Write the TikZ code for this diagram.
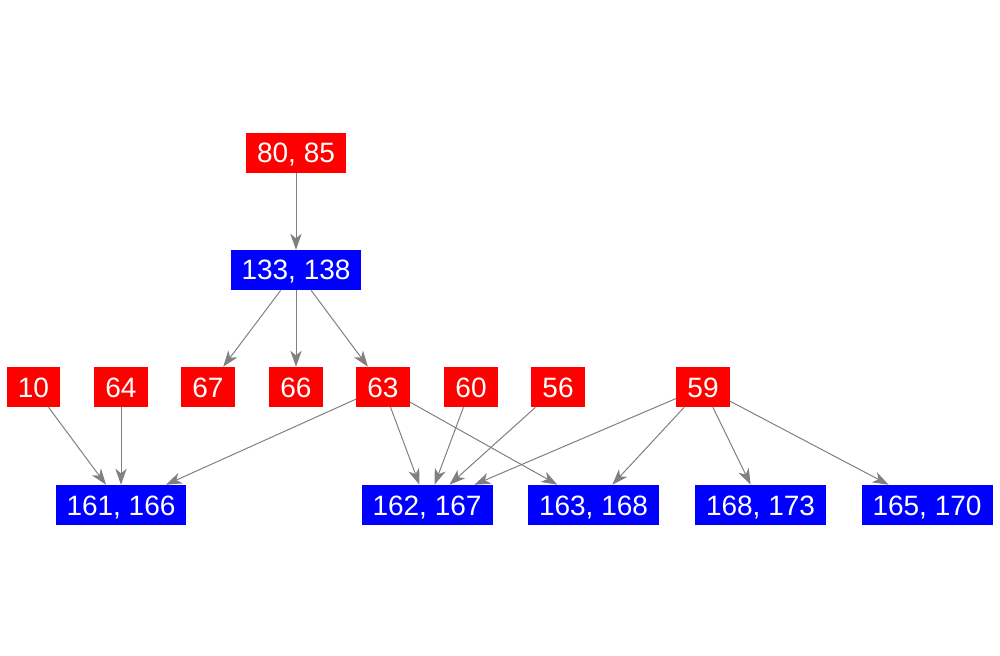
\documentclass[tikz,border=0pt]{standalone}
\usepackage{fontspec}
\setmainfont{Liberation Sans}
\usetikzlibrary{arrows.meta}
\definecolor{nodered}{RGB}{255,0,0}
\definecolor{nodeblue}{RGB}{0,0,255}
\definecolor{edgegray}{RGB}{128,128,128}

\begin{document}
\begin{tikzpicture}[x=0.75pt,y=-0.75pt,
    vbox/.style={fill=#1,text=white,inner xsep=8.25pt,inner ysep=0pt,
      text height=15pt,text depth=0pt,
      minimum height=30pt,font=\fontsize{21}{25}\selectfont},
    srcbox/.style={vbox=nodered},
    dstbox/.style={vbox=nodeblue},
    link/.style={draw=edgegray,line width=0.75pt,
      -{Stealth[length=12pt,width=8.5pt,inset=3.5pt]}}]
  \useasboundingbox (0,0) rectangle (1000,656);
  % ---------- top two levels ----------
  \node[srcbox] (a8085) at (296,153) {80, 85};
  \node[dstbox] (b133) at (296,270) {133, 138};
  % ---------- middle row ----------
  \node[srcbox] (r10) at (33.5,387) {10};
  \node[srcbox] (r64) at (121,387) {64};
  \node[srcbox] (r67) at (208,387) {67};
  \node[srcbox] (r66) at (296,387) {66};
  \node[srcbox] (r63) at (383,387) {63};
  \node[srcbox] (r60) at (471,387) {60};
  \node[srcbox] (r56) at (558,387) {56};
  \node[srcbox] (r59) at (703,387) {59};
  % ---------- bottom row ----------
  \node[dstbox] (b161) at (121,505) {161, 166};
  \node[dstbox] (b162) at (427,505) {162, 167};
  \node[dstbox] (b163) at (593.5,505) {163, 168};
  \node[dstbox] (b168) at (760.5,505) {168, 173};
  \node[dstbox] (b165) at (927,505) {165, 170};
  % ---------- edges ----------
  \foreach \s/\t in {a8085/b133,b133/r67,b133/r66,b133/r63,
      r10/b161,r64/b161,r63/b161,r63/b162,r63/b163,
      r60/b162,r56/b162,r59/b162,r59/b163,r59/b168,r59/b165}
    \draw[link] (\s) -- (\t);
\end{tikzpicture}
\end{document}
